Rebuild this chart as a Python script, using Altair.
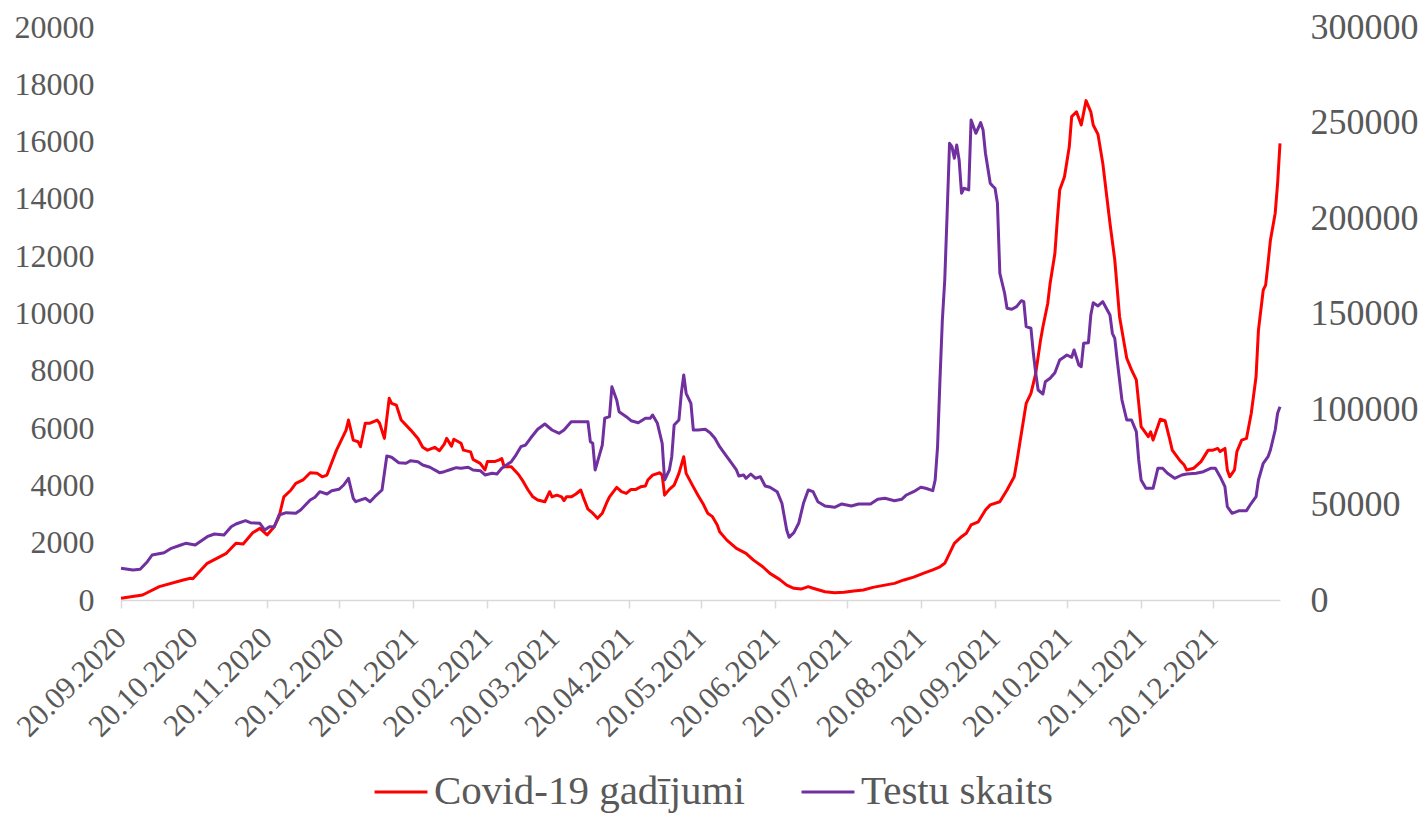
import altair as alt
import pandas as pd

START = "2020-09-20"

# Covid-19 cases (left axis): day offset from 20.09.2020 and value
cases_day = [0, 9, 16, 26, 29, 30, 36, 40, 44, 48, 51, 55, 58, 61, 64, 66, 68, 71, 73, 76,
             79, 82, 84, 86, 90, 94, 95, 97, 99, 100, 102, 104, 107, 108, 110, 112, 113, 115, 117, 121,
             124, 126, 128, 131, 133, 135, 136, 138, 139, 142, 143, 146, 147, 150, 152, 153, 156, 158, 159, 160,
             163, 166, 168, 170, 172, 174, 177, 179, 180, 182, 184, 185, 186, 188, 190, 192, 193, 195, 197, 199,
             201, 203, 204, 207, 209, 211, 213, 215, 217, 219, 220, 222, 225, 226, 227, 229, 231, 233, 235, 236,
             239, 241, 243, 245, 247, 249, 250, 253, 257, 261, 264, 268, 271, 275, 278, 281, 284, 287, 289, 294,
             298, 302, 306, 310, 314, 319, 323, 327, 331, 335, 339, 342, 344, 346, 348, 351, 353, 355, 358, 361,
             363, 367, 370, 373, 374, 376, 378, 380, 382, 384, 385, 387, 388, 390, 391, 392, 394, 396, 397, 399,
             401, 403, 405, 406, 408, 410, 413, 415, 417, 420, 422, 424, 426, 429, 430, 431, 434, 436, 438, 439,
             442, 444, 445, 448, 451, 454, 456, 458, 459, 461, 462, 463, 465, 466, 468, 470, 472, 474, 475, 477,
             478, 479, 480, 482, 483, 484]
cases_val = [60, 175, 465, 700, 757, 740, 1280, 1455, 1630, 1980, 1955, 2350, 2500, 2270, 2560, 2910, 3600, 3840, 4070, 4190,
             4440, 4420, 4300, 4360, 5230, 5930, 6280, 5580, 5525, 5350, 6170, 6170, 6280, 6170, 5640, 7040, 6860, 6800, 6280, 5930,
             5640, 5330, 5230, 5330, 5210, 5440, 5640, 5370, 5610, 5470, 5230, 5170, 4910, 4770, 4540, 4830, 4830, 4890, 4940, 4650,
             4650, 4380, 4130, 3840, 3600, 3490, 3430, 3780, 3600, 3660, 3600, 3470, 3600, 3600, 3700, 3840, 3600, 3170, 3030, 2850,
             3030, 3430, 3600, 3930, 3780, 3720, 3860, 3860, 3950, 3980, 4190, 4360, 4440, 4360, 3660, 3860, 4010, 4420, 5000, 4420,
             3950, 3650, 3370, 3030, 2910, 2620, 2380, 2090, 1800, 1630, 1400, 1160, 930, 720, 520, 410, 380, 465, 410, 290,
             255, 270, 315, 350, 440, 520, 580, 700, 800, 930, 1050, 1160, 1280, 1630, 1980, 2210, 2330, 2620, 2730, 3140,
             3320, 3430, 3840, 4300, 4770, 5820, 6860, 7210, 7910, 9070, 9540, 10350, 11050, 12100, 13260, 14310, 14770, 15820, 16870, 17040,
             16580, 17430, 17040, 16580, 16250, 15240, 13150, 11870, 9890, 8440, 8030, 7680, 6050, 5700, 5870, 5580, 6310, 6260, 5600, 5230,
             4890, 4710, 4540, 4600, 4830, 5230, 5230, 5290, 5180, 5290, 4540, 4300, 4540, 5180, 5580, 5640, 6520, 7790, 9420, 10820,
             10990, 11750, 12560, 13500, 14540, 15940]

# Number of tests (right axis)
tests_day = [0, 5, 8, 11, 13, 18, 21, 25, 27, 31, 36, 39, 43, 46, 48, 52, 54, 58, 60, 62,
             64, 66, 69, 73, 75, 79, 81, 83, 86, 88, 91, 93, 95, 97, 98, 102, 104, 106, 109, 111,
             113, 116, 119, 121, 124, 126, 129, 133, 135, 138, 140, 142, 145, 147, 150, 152, 155, 157, 159, 161,
             163, 165, 167, 169, 171, 174, 177, 180, 183, 185, 188, 192, 195, 196, 197, 198, 200, 201, 202, 204,
             205, 207, 208, 211, 213, 216, 219, 221, 222, 224, 226, 227, 229, 230, 231, 233, 234, 235, 236, 238,
             239, 241, 244, 246, 248, 250, 252, 254, 257, 258, 260, 261, 263, 265, 267, 269, 271, 274, 276, 278,
             279, 281, 283, 285, 287, 289, 291, 294, 298, 301, 305, 308, 313, 316, 319, 323, 326, 328, 331, 334,
             336, 339, 340, 341, 342, 343, 344, 345, 346, 347, 348, 349, 350, 351, 352, 354, 355, 357, 359, 360,
             361, 363, 364, 365, 366, 367, 369, 370, 372, 374, 376, 377, 378, 380, 381, 382, 383, 385, 386, 388,
             390, 392, 394, 395, 397, 398, 400, 401, 402, 404, 405, 406, 408, 410, 413, 414, 415, 416, 418, 420,
             422, 424, 425, 426, 428, 431, 433, 435, 437, 440, 443, 445, 449, 452, 455, 457, 459, 461, 462, 464,
             467, 470, 472, 474, 475, 477, 479, 480, 482, 483, 484]
tests_val = [16600, 15700, 16070, 20050, 23560, 24770, 27070, 28800, 29690, 28800, 33140, 34560, 34030, 38380, 39790, 41520, 40470, 40160, 36650, 38380,
             38380, 44500, 45710, 45400, 47120, 52360, 53770, 56710, 55500, 57230, 57960, 60210, 63720, 53250, 51470, 53250, 51470, 54090, 57600, 75400,
             74720, 71890, 71580, 72940, 72420, 70690, 69480, 66660, 67180, 68440, 69270, 68960, 69480, 68070, 67700, 65450, 66340, 65970, 68960, 70690,
             72420, 76000, 80270, 81160, 84660, 89370, 92150, 89010, 87280, 89010, 93360, 93360, 93360, 82890, 82050, 68070, 76810, 81160, 95140, 95980,
             111690, 104720, 98600, 95980, 93880, 92830, 95140, 95140, 96870, 92520, 82050, 62830, 68070, 75030, 91630, 94250, 108230, 117810, 108230, 102990,
             89010, 89010, 89370, 87600, 84660, 80270, 76810, 73300, 68070, 64930, 65450, 63720, 65970, 63720, 64560, 59690, 59010, 56710, 50630, 36650,
             32830, 35240, 40160, 50630, 57600, 56710, 51470, 49220, 48540, 50270, 49220, 50270, 50270, 52730, 53250, 51990, 52730, 54980, 56710, 59010,
             58490, 57230, 62830, 80270, 115190, 146610, 167550, 202470, 239130, 237350, 231270, 238240, 230380, 212950, 215570, 214680, 251330, 244360, 249920, 246090,
             233890, 218180, 216770, 215570, 207710, 171060, 160590, 152740, 152210, 153580, 156720, 156190, 143100, 142260, 129170, 118700, 109960, 107860, 114300, 116090,
             119020, 125660, 127390, 128280, 127080, 130900, 123050, 122160, 134410, 134730, 149230, 155670, 153940, 156190, 149230, 139640, 137020, 125660, 104720, 94250,
             94250, 88120, 73300, 62830, 58490, 58490, 68960, 68960, 66340, 63720, 65450, 65970, 66340, 67180, 68960, 68960, 64560, 59320, 48850, 45400,
             46760, 46760, 50630, 54090, 62830, 71580, 75030, 78540, 89010, 97750, 101210]

series_names = ["Covid-19 gadījumi", "Testu skaits"]
series_colors = ["#FF0000", "#7030A0"]
left_ticks = list(range(0, 20001, 2000))
right_ticks = list(range(0, 300001, 50000))
tick_months = [(2020, m) for m in range(9, 13)] + [(2021, m) for m in range(1, 13)]

start = pd.Timestamp(START)
df_cases = pd.DataFrame({
    "date": start + pd.to_timedelta(cases_day, unit="D"),
    "value": cases_val,
    "series": series_names[0],
})
df_tests = pd.DataFrame({
    "date": start + pd.to_timedelta(tests_day, unit="D"),
    "value": tests_val,
    "series": series_names[1],
})

gray = "#595959"
axis_gray = "#D9D9D9"

x_enc = alt.X(
    "date:T",
    scale=alt.Scale(domain=[alt.DateTime(year=2020, month=9, date=20),
                            alt.DateTime(year=2022, month=1, date=17)]),
    axis=alt.Axis(
        values=[alt.DateTime(year=y, month=m, date=20) for y, m in tick_months],
        format="%d.%m.%Y",
        labelAngle=315,
        labelAlign="right",
        labelBaseline="middle",
        labelFontSize=31,
        labelColor=gray,
        labelPadding=25,
        tickSize=8,
        tickColor=axis_gray,
        tickWidth=1.5,
        domainColor=axis_gray,
        domainWidth=1.5,
        grid=False,
        title=None,
        labelOverlap=False,
        labelFlush=False,
    ),
)

color_enc = alt.Color(
    "series:N",
    scale=alt.Scale(domain=series_names, range=series_colors),
    legend=alt.Legend(
        title=None,
        orient="none",
        direction="horizontal",
        legendX=252,
        legendY=737,
        symbolType="stroke",
        symbolSize=2800,
        symbolStrokeWidth=3,
        labelFontSize=41,
        labelColor=gray,
        labelOffset=5,
        columnPadding=50,
        labelLimit=0,
    ),
)

cases = alt.Chart(df_cases).mark_line(strokeWidth=3, strokeJoin="round").encode(
    x=x_enc,
    y=alt.Y(
        "value:Q",
        scale=alt.Scale(domain=[0, 20000], nice=False),
        axis=alt.Axis(values=left_ticks, format="d", orient="left", labelFontSize=32,
                      labelColor=gray, labelPadding=27, ticks=False, domain=False,
                      grid=False, title=None),
    ),
    color=color_enc,
)

tests = alt.Chart(df_tests).mark_line(strokeWidth=3, strokeJoin="round").encode(
    x=x_enc,
    y=alt.Y(
        "value:Q",
        scale=alt.Scale(domain=[0, 300000], nice=False),
        axis=alt.Axis(values=right_ticks, format="d", orient="right", labelFontSize=36,
                      labelColor=gray, labelPadding=30, ticks=False, domain=False,
                      grid=False, title=None),
    ),
    color=color_enc,
)

chart = (
    alt.layer(cases, tests)
    .resolve_scale(y="independent", color="shared")
    .properties(
        width=1159,
        height=573,
        autosize=alt.AutoSizeParams(type="none"),
        padding={"left": 113, "top": 19, "right": 139, "bottom": 240},
        background="white",
    )
    .configure(font="Liberation Serif")
    .configure_view(stroke=None)
)

chart.save("out.html", embed_options={"renderer": "svg", "actions": False})
